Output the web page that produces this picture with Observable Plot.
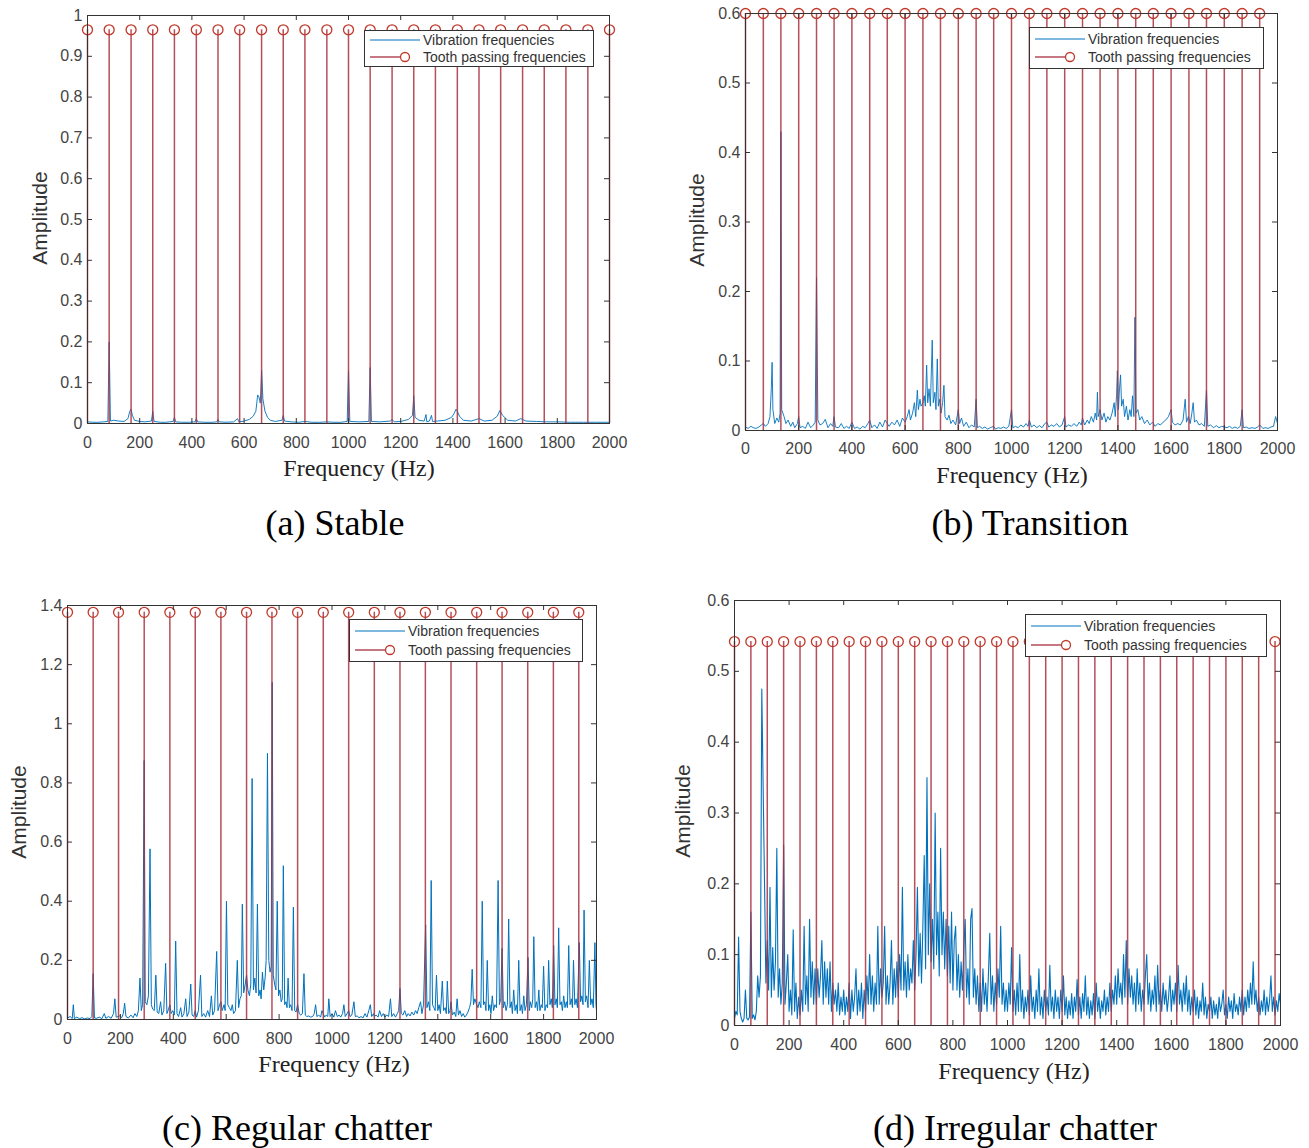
<!DOCTYPE html>
<html><head><meta charset="utf-8">
<script src="https://cdn.jsdelivr.net/npm/d3@7"></script>
<script src="https://cdn.jsdelivr.net/npm/@observablehq/plot@0.6"></script>
<style>
body{margin:0;background:#fff;}
#root{position:relative;width:1309px;height:1148px;background:#fff;overflow:hidden;font-family:"Liberation Sans",Arial,sans-serif;}
.panel{position:absolute;}
.xl{position:absolute;font-family:"Liberation Serif","Times New Roman",serif;font-size:24px;color:#222;transform:translate(-50%,-50%);white-space:nowrap;}
.yl{position:absolute;font-size:21px;color:#333;transform:translate(-50%,-50%) rotate(-90deg);white-space:nowrap;}
.cap{position:absolute;font-family:"Liberation Serif","Times New Roman",serif;font-size:36px;color:#000;transform:translate(-50%,-50%);white-space:nowrap;}
.leg{position:absolute;background:#fff;border:1px solid #333;box-sizing:border-box;font-size:14px;color:#333;display:flex;flex-direction:column;justify-content:space-evenly;}
.leg .row{display:flex;align-items:center;height:16px;}
.leg svg{flex:none;}
</style></head>
<body><div id="root"></div>
<script>
// ---------- shared ----------
const X_TICKS = [0,200,400,600,800,1000,1200,1400,1600,1800,2000];
const LEGEND_LABELS = ["Vibration frequencies","Tooth passing frequencies"];
const X_LABEL = "Frequency (Hz)";
const Y_LABEL = "Amplitude";
const CAPTIONS = ["(a) Stable","(b) Transition","(c) Regular chatter","(d) Irregular chatter"];

// ---------- (a) Stable ----------
const A_Y_TICKS = [0,0.1,0.2,0.3,0.4,0.5,0.6,0.7,0.8,0.9,1];
const A_TOOTH_AMP = 0.965;
const A_TOOTH_FREQ = [0,83,167,250,333,417,500,583,667,750,833,917,1000,1083,1167,1250,1333,1417,1500,1583,1667,1750,1833,1917,2000];
const A_SPEC = [[0,0.004],[20,0.003],[40,0.003],[60,0.004],[78,0.005],[83,0.2],[88,0.006],[100,0.008],[120,0.006],[140,0.005],[155,0.012],[162,0.03],[167,0.035],[172,0.02],[180,0.008],[200,0.005],[220,0.004],[245,0.006],[250,0.03],[255,0.005],[280,0.003],[300,0.003],[328,0.005],[333,0.015],[338,0.004],[360,0.003],[390,0.003],[412,0.004],[417,0.012],[422,0.004],[450,0.003],[480,0.003],[495,0.004],[500,0.01],[505,0.004],[530,0.003],[560,0.004],[575,0.012],[580,0.004],[600,0.006],[620,0.01],[635,0.018],[645,0.03],[652,0.07],[657,0.065],[662,0.05],[667,0.13],[672,0.06],[680,0.03],[690,0.015],[700,0.008],[720,0.005],[745,0.008],[750,0.02],[755,0.006],[780,0.004],[810,0.003],[833,0.005],[860,0.003],[890,0.003],[917,0.004],[940,0.003],[970,0.003],[995,0.005],[1000,0.13],[1005,0.005],[1040,0.004],[1078,0.005],[1083,0.137],[1088,0.005],[1120,0.004],[1160,0.006],[1167,0.01],[1175,0.004],[1200,0.005],[1230,0.01],[1245,0.02],[1250,0.068],[1255,0.015],[1270,0.008],[1290,0.006],[1297,0.022],[1300,0.004],[1310,0.006],[1318,0.02],[1322,0.005],[1340,0.006],[1370,0.008],[1395,0.015],[1405,0.025],[1412,0.035],[1417,0.03],[1425,0.018],[1440,0.008],[1470,0.006],[1500,0.012],[1520,0.006],[1550,0.008],[1570,0.018],[1580,0.032],[1590,0.02],[1610,0.008],[1640,0.006],[1660,0.012],[1680,0.006],[1720,0.005],[1760,0.004],[1800,0.004],[1850,0.003],[1900,0.003],[1950,0.003],[2000,0.003]];

// ---------- (b) Transition ----------
const B_Y_TICKS = [0,0.1,0.2,0.3,0.4,0.5,0.6];
const B_TOOTH_AMP = 0.6;
const B_TOOTH_FREQ = [0,67,133,200,267,333,400,467,533,600,667,733,800,867,933,1000,1067,1133,1200,1267,1333,1400,1467,1533,1600,1667,1733,1800,1867,1933];
const B_SPEC = [[0,0.005],[10,0.003],[20,0.006],[30,0.004],[40,0.003],[50,0.005],[60,0.008],[67,0.01],[75,0.006],[85,0.01],[92,0.02],[97,0.06],[100,0.098],[103,0.03],[110,0.01],[118,0.018],[125,0.012],[130,0.025],[133,0.43],[136,0.03],[145,0.02],[152,0.01],[160,0.015],[170,0.006],[178,0.012],[185,0.004],[195,0.01],[200,0.02],[205,0.004],[215,0.006],[225,0.003],[235,0.012],[245,0.004],[255,0.008],[262,0.012],[267,0.22],[272,0.015],[280,0.008],[290,0.01],[300,0.016],[310,0.004],[320,0.01],[328,0.006],[333,0.02],[338,0.005],[350,0.004],[360,0.01],[370,0.003],[380,0.006],[390,0.003],[400,0.012],[410,0.003],[420,0.005],[430,0.002],[440,0.006],[450,0.004],[460,0.01],[467,0.015],[475,0.004],[485,0.008],[495,0.003],[505,0.012],[515,0.005],[525,0.015],[533,0.01],[540,0.006],[550,0.012],[560,0.008],[570,0.015],[580,0.006],[590,0.018],[600,0.012],[608,0.02],[615,0.03],[620,0.015],[628,0.025],[635,0.04],[640,0.02],[646,0.058],[650,0.03],[656,0.045],[660,0.035],[667,0.04],[672,0.05],[676,0.035],[681,0.094],[685,0.04],[690,0.06],[695,0.035],[702,0.13],[706,0.04],[712,0.055],[716,0.03],[721,0.103],[725,0.035],[730,0.045],[735,0.025],[741,0.04],[746,0.065],[750,0.02],[758,0.015],[765,0.022],[772,0.01],[780,0.015],[790,0.008],[800,0.03],[805,0.01],[812,0.018],[820,0.006],[830,0.012],[840,0.004],[850,0.008],[860,0.005],[867,0.045],[872,0.004],[880,0.006],[890,0.003],[900,0.005],[910,0.002],[920,0.004],[933,0.006],[940,0.002],[950,0.004],[960,0.003],[970,0.005],[980,0.003],[990,0.006],[1000,0.03],[1005,0.004],[1015,0.006],[1025,0.004],[1035,0.008],[1045,0.005],[1055,0.01],[1062,0.006],[1067,0.015],[1075,0.005],[1085,0.008],[1095,0.004],[1105,0.007],[1115,0.004],[1125,0.01],[1133,0.012],[1140,0.005],[1150,0.008],[1160,0.006],[1170,0.01],[1180,0.005],[1190,0.008],[1200,0.02],[1205,0.005],[1215,0.008],[1225,0.006],[1235,0.01],[1245,0.006],[1255,0.012],[1262,0.008],[1267,0.018],[1275,0.008],[1285,0.015],[1292,0.01],[1300,0.02],[1308,0.012],[1315,0.025],[1320,0.015],[1323,0.055],[1326,0.02],[1333,0.03],[1340,0.015],[1348,0.025],[1355,0.012],[1362,0.02],[1370,0.015],[1378,0.025],[1386,0.04],[1390,0.02],[1395,0.05],[1398,0.086],[1402,0.03],[1406,0.06],[1410,0.08],[1414,0.035],[1420,0.045],[1425,0.02],[1432,0.035],[1438,0.015],[1445,0.03],[1450,0.02],[1455,0.05],[1460,0.02],[1464,0.163],[1468,0.025],[1475,0.03],[1482,0.015],[1490,0.02],[1500,0.01],[1510,0.015],[1520,0.008],[1530,0.012],[1540,0.006],[1550,0.01],[1560,0.008],[1570,0.012],[1580,0.015],[1590,0.02],[1600,0.03],[1605,0.012],[1615,0.008],[1625,0.01],[1635,0.008],[1645,0.015],[1653,0.045],[1658,0.012],[1665,0.02],[1672,0.01],[1678,0.025],[1683,0.04],[1688,0.012],[1695,0.015],[1705,0.008],[1715,0.01],[1725,0.006],[1733,0.058],[1738,0.006],[1748,0.008],[1760,0.004],[1770,0.007],[1780,0.004],[1790,0.006],[1800,0.005],[1810,0.004],[1820,0.006],[1830,0.003],[1840,0.005],[1850,0.003],[1860,0.006],[1867,0.03],[1872,0.004],[1882,0.005],[1892,0.003],[1905,0.004],[1915,0.003],[1925,0.005],[1933,0.008],[1945,0.003],[1955,0.004],[1965,0.003],[1975,0.005],[1985,0.006],[1993,0.02],[2000,0.01]];

// ---------- (c) Regular chatter ----------
const C_Y_TICKS = [0,0.2,0.4,0.6,0.8,1,1.2,1.4];
const C_TOOTH_AMP = 1.377;
const C_TOOTH_FREQ = [0,97,193,290,387,483,580,677,773,870,967,1063,1160,1257,1353,1450,1547,1643,1740,1837,1933];
const C_SPEC = [[0,0.005],[10,0.01],[18,0.003],[22,0.05],[26,0.003],[35,0.008],[45,0.003],[55,0.006],[65,0.002],[75,0.005],[85,0.003],[92,0.01],[97,0.155],[102,0.005],[110,0.004],[120,0.008],[130,0.003],[139,0.02],[145,0.004],[155,0.01],[165,0.004],[174,0.02],[179,0.07],[184,0.008],[192,0.01],[197,0.012],[205,0.006],[211,0.02],[216,0.055],[221,0.01],[230,0.005],[240,0.015],[248,0.006],[255,0.02],[262,0.01],[268,0.03],[274,0.14],[279,0.03],[284,0.05],[290,0.876],[294,0.06],[300,0.05],[306,0.08],[312,0.577],[317,0.05],[322,0.035],[328,0.03],[334,0.15],[339,0.025],[345,0.02],[352,0.06],[357,0.015],[364,0.03],[371,0.19],[376,0.02],[382,0.035],[387,0.05],[392,0.02],[398,0.03],[404,0.015],[409,0.265],[414,0.02],[420,0.01],[428,0.04],[433,0.008],[440,0.02],[447,0.07],[452,0.01],[459,0.025],[466,0.12],[471,0.015],[477,0.01],[483,0.03],[488,0.008],[495,0.03],[503,0.15],[508,0.01],[515,0.02],[522,0.008],[530,0.03],[537,0.01],[544,0.08],[549,0.015],[556,0.03],[564,0.23],[569,0.03],[575,0.05],[580,0.06],[585,0.03],[592,0.05],[596,0.03],[601,0.4],[606,0.05],[612,0.04],[618,0.03],[623,0.05],[628,0.02],[635,0.03],[642,0.2],[647,0.04],[652,0.07],[657,0.08],[661,0.39],[666,0.09],[672,0.12],[677,0.15],[682,0.1],[688,0.08],[693,0.12],[698,0.815],[703,0.1],[708,0.14],[713,0.09],[718,0.39],[723,0.08],[728,0.1],[732,0.07],[737,0.16],[742,0.1],[747,0.14],[751,0.2],[756,0.9],[761,0.2],[766,0.16],[770,0.18],[774,1.14],[778,0.15],[783,0.12],[788,0.1],[793,0.4],[798,0.08],[803,0.1],[808,0.06],[812,0.07],[816,0.52],[821,0.05],[826,0.06],[830,0.04],[834,0.14],[839,0.04],[844,0.05],[849,0.03],[854,0.38],[859,0.03],[864,0.025],[870,0.05],[876,0.02],[882,0.015],[888,0.02],[894,0.155],[899,0.015],[905,0.01],[912,0.012],[920,0.008],[927,0.01],[933,0.02],[938,0.05],[943,0.01],[950,0.015],[957,0.008],[962,0.03],[967,0.02],[972,0.008],[978,0.015],[984,0.01],[988,0.07],[993,0.01],[1000,0.02],[1007,0.008],[1013,0.03],[1020,0.01],[1027,0.015],[1033,0.008],[1040,0.02],[1045,0.05],[1050,0.01],[1057,0.02],[1063,0.03],[1068,0.01],[1075,0.015],[1083,0.06],[1088,0.01],[1095,0.012],[1102,0.006],[1110,0.01],[1117,0.005],[1125,0.02],[1132,0.008],[1139,0.03],[1145,0.05],[1150,0.01],[1157,0.02],[1160,0.01],[1167,0.015],[1174,0.008],[1180,0.03],[1187,0.01],[1194,0.02],[1200,0.008],[1207,0.015],[1214,0.01],[1221,0.07],[1226,0.01],[1233,0.02],[1240,0.008],[1247,0.02],[1252,0.03],[1257,0.105],[1262,0.02],[1268,0.015],[1275,0.03],[1282,0.01],[1288,0.02],[1295,0.012],[1302,0.025],[1309,0.015],[1316,0.03],[1322,0.02],[1328,0.04],[1335,0.06],[1340,0.02],[1346,0.05],[1354,0.32],[1359,0.04],[1365,0.06],[1370,0.03],[1375,0.47],[1380,0.05],[1385,0.04],[1390,0.03],[1395,0.15],[1400,0.03],[1405,0.05],[1410,0.02],[1417,0.13],[1422,0.03],[1428,0.04],[1432,0.02],[1436,0.13],[1441,0.02],[1446,0.03],[1450,0.06],[1455,0.015],[1462,0.025],[1468,0.01],[1473,0.07],[1478,0.015],[1484,0.03],[1490,0.01],[1496,0.02],[1502,0.008],[1508,0.015],[1514,0.025],[1520,0.04],[1525,0.06],[1530,0.17],[1535,0.05],[1540,0.07],[1547,0.05],[1552,0.04],[1557,0.06],[1563,0.04],[1568,0.4],[1573,0.05],[1578,0.06],[1582,0.03],[1587,0.2],[1592,0.03],[1597,0.05],[1601,0.02],[1606,0.08],[1611,0.03],[1616,0.05],[1622,0.04],[1628,0.47],[1633,0.05],[1638,0.07],[1643,0.24],[1648,0.04],[1653,0.06],[1658,0.03],[1663,0.05],[1668,0.34],[1673,0.04],[1678,0.06],[1682,0.02],[1687,0.1],[1692,0.03],[1697,0.05],[1701,0.02],[1706,0.2],[1711,0.03],[1716,0.05],[1720,0.02],[1725,0.08],[1730,0.03],[1735,0.05],[1741,0.21],[1746,0.03],[1750,0.06],[1755,0.04],[1759,0.07],[1763,0.28],[1768,0.04],[1773,0.06],[1777,0.03],[1782,0.1],[1786,0.03],[1791,0.05],[1795,0.04],[1800,0.18],[1805,0.03],[1810,0.05],[1815,0.04],[1819,0.2],[1824,0.05],[1829,0.07],[1833,0.04],[1838,0.25],[1843,0.05],[1848,0.07],[1852,0.04],[1857,0.31],[1862,0.05],[1867,0.06],[1871,0.03],[1876,0.08],[1881,0.04],[1886,0.06],[1890,0.04],[1895,0.25],[1900,0.05],[1905,0.07],[1909,0.04],[1913,0.2],[1918,0.05],[1923,0.07],[1928,0.04],[1935,0.26],[1940,0.06],[1945,0.08],[1949,0.05],[1953,0.37],[1958,0.06],[1963,0.08],[1968,0.04],[1973,0.2],[1978,0.05],[1983,0.07],[1988,0.04],[1994,0.26],[1998,0.05],[2000,0.03]];

// ---------- (d) Irregular chatter (amplitude per 5 Hz bin, 0..2000 Hz) ----------
const D_Y_TICKS = [0,0.1,0.2,0.3,0.4,0.5,0.6];
const D_TOOTH_AMP = 0.542;
const D_TOOTH_FREQ = [0,60,120,180,240,300,360,420,480,540,600,660,720,780,840,900,960,1020,1080,1140,1200,1260,1320,1380,1440,1500,1560,1620,1680,1740,1800,1860,1920,1980];
const D_BIN_HZ = 5;
const D_AMP = [
0.01,0.02,0.015,0.125,0.02,0.01,0.005,0.01,0.05,0.01,0.008,0.012,0.16,0.01,0.015,0.008,0.02,0.07,0.04,0.07,
0.475,0.335,0.2,0.06,0.12,0.05,0.195,0.04,0.11,0.05,0.09,0.25,0.04,0.08,0.03,0.06,0.255,0.03,0.06,0.1,
0.02,0.05,0.015,0.135,0.02,0.06,0.01,0.04,0.015,0.05,0.02,0.14,0.03,0.07,0.02,0.15,0.04,0.09,0.03,0.08,
0.03,0.08,0.04,0.07,0.12,0.03,0.09,0.04,0.08,0.03,0.09,0.02,0.06,0.03,0.05,0.02,0.06,0.015,0.04,0.02,
0.05,0.015,0.04,0.02,0.06,0.01,0.05,0.02,0.04,0.08,0.015,0.05,0.02,0.06,0.01,0.05,0.02,0.07,0.03,0.1,
0.03,0.07,0.02,0.06,0.03,0.14,0.03,0.08,0.04,0.06,0.14,0.03,0.07,0.03,0.06,0.12,0.03,0.08,0.04,0.09,
0.04,0.1,0.05,0.195,0.05,0.09,0.04,0.1,0.05,0.08,0.06,0.12,0.05,0.1,0.195,0.07,0.13,0.06,0.14,0.24,
0.08,0.35,0.1,0.2,0.09,0.15,0.08,0.3,0.1,0.16,0.07,0.25,0.1,0.16,0.08,0.15,0.07,0.14,0.06,0.16,
0.05,0.12,0.14,0.05,0.1,0.04,0.09,0.05,0.11,0.15,0.04,0.08,0.03,0.15,0.165,0.04,0.08,0.03,0.07,0.02,
0.06,0.02,0.08,0.03,0.06,0.02,0.07,0.13,0.03,0.07,0.02,0.06,0.03,0.08,0.04,0.14,0.03,0.06,0.02,0.05,
0.02,0.06,0.03,0.11,0.02,0.05,0.015,0.06,0.02,0.1,0.02,0.05,0.01,0.04,0.02,0.05,0.015,0.07,0.02,0.04,
0.01,0.05,0.02,0.08,0.015,0.04,0.01,0.05,0.02,0.04,0.015,0.085,0.02,0.04,0.01,0.05,0.02,0.04,0.01,0.05,
0.02,0.07,0.015,0.04,0.01,0.035,0.015,0.045,0.01,0.04,0.02,0.065,0.015,0.04,0.01,0.045,0.02,0.07,0.015,0.04,
0.01,0.035,0.015,0.045,0.01,0.06,0.02,0.04,0.01,0.035,0.02,0.05,0.015,0.04,0.02,0.06,0.02,0.05,0.03,0.07,
0.03,0.08,0.04,0.06,0.03,0.1,0.04,0.12,0.03,0.08,0.04,0.07,0.03,0.06,0.02,0.08,0.03,0.06,0.02,0.05,
0.03,0.07,0.1,0.03,0.06,0.02,0.05,0.03,0.07,0.02,0.085,0.03,0.05,0.02,0.06,0.03,0.05,0.02,0.04,0.07,
0.02,0.05,0.03,0.06,0.02,0.085,0.03,0.05,0.02,0.06,0.03,0.07,0.02,0.05,0.015,0.04,0.02,0.05,0.015,0.04,
0.01,0.035,0.02,0.06,0.015,0.04,0.01,0.03,0.02,0.04,0.01,0.035,0.015,0.03,0.01,0.04,0.02,0.03,0.05,0.015,
0.03,0.01,0.04,0.02,0.035,0.01,0.045,0.02,0.03,0.015,0.04,0.02,0.05,0.015,0.04,0.02,0.05,0.025,0.06,0.03,
0.09,0.03,0.05,0.02,0.04,0.015,0.035,0.02,0.05,0.015,0.04,0.02,0.035,0.07,0.02,0.04,0.015,0.035,0.02,0.045,0.03
];
const D_SPEC = D_AMP.map((a, i) => [i * D_BIN_HZ, a]);

// ---------- styling / layout ----------
const BLUE = "#0072BD", STEM = "#A8303E", RING = "#C0392B", AX = "#333";
const PANELS = [
  {spec:A_SPEC, teeth:A_TOOTH_FREQ, amp:A_TOOTH_AMP, yticks:A_Y_TICKS, ymax:1,   left:0,   top:0,   width:629, height:460, ml:87, mr:20, mt:15, mb:37, pad:13, lw:0.9,
   xl:[359,468], yl:[40,218], cap:[335,523], leg:[364,30,230,37]},
  {spec:B_SPEC, teeth:B_TOOTH_FREQ, amp:B_TOOTH_AMP, yticks:B_Y_TICKS, ymax:0.6, left:660, top:0,   width:637, height:468, ml:85, mr:20, mt:13, mb:38, pad:12, lw:0.9,
   xl:[1012,475], yl:[697,220], cap:[1030,523], leg:[1029,27,235,42]},
  {spec:C_SPEC, teeth:C_TOOTH_FREQ, amp:C_TOOTH_AMP, yticks:C_Y_TICKS, ymax:1.4, left:0,   top:590, width:616, height:467, ml:67, mr:20, mt:15, mb:38, pad:13, lw:1,
   xl:[334,1064], yl:[19,812], cap:[297,1128], leg:[349,619,234,43]},
  {spec:D_SPEC, teeth:D_TOOTH_FREQ, amp:D_TOOTH_AMP, yticks:D_Y_TICKS, ymax:0.6, left:660, top:585, width:640, height:478, ml:74, mr:20, mt:15, mb:38, pad:13, lw:1.1,
   xl:[1014,1071], yl:[683,811], cap:[1015,1128], leg:[1025,614,242,43]}
];

const root = document.getElementById("root");
function div(cls, text, x, y){ const d=document.createElement("div"); d.className=cls; d.textContent=text; d.style.left=x+"px"; d.style.top=y+"px"; root.appendChild(d); return d; }

PANELS.forEach((o, i) => {
  const fh = o.height - o.mt - o.mb, fw = o.width - o.ml - o.mr;
  const tly = o.ymax * 5 / fh, tlx = 2000 * 5 / fw;
  const svg = Plot.plot({
    width:o.width, height:o.height, marginLeft:o.ml, marginRight:o.mr, marginTop:o.mt, marginBottom:o.mb,
    x:{domain:[0,2000]}, y:{domain:[0,o.ymax]},
    style:{fontFamily:"'Liberation Sans', Arial, sans-serif", fontSize:"16px", color:"#444", background:"transparent", overflow:"visible"},
    marks:[
      Plot.line(o.spec, {x:d=>d[0], y:d=>d[1], stroke:BLUE, strokeWidth:o.lw}),
      Plot.ruleX(o.teeth, {x:d=>d, y1:0, y2:o.amp, stroke:STEM, strokeWidth:1.5, strokeOpacity:0.85}),
      Plot.dot(o.teeth, {x:d=>d, y:o.amp, r:5, stroke:RING, strokeWidth:1.3, fill:"none"}),
      Plot.ruleX(X_TICKS, {x:d=>d, y1:0, y2:tly, stroke:AX}),
      Plot.ruleX(X_TICKS, {x:d=>d, y1:o.ymax - tly, y2:o.ymax, stroke:AX}),
      Plot.ruleY(o.yticks, {y:d=>d, x1:0, x2:tlx, stroke:AX}),
      Plot.ruleY(o.yticks, {y:d=>d, x1:2000 - tlx, x2:2000, stroke:AX}),
      Plot.frame({stroke:AX}),
      Plot.axisX({ticks:X_TICKS, tickSize:0, tickPadding:o.pad, label:null, tickFormat:d=>String(d)}),
      Plot.axisY({ticks:o.yticks, tickSize:0, tickPadding:5, label:null, tickFormat:d=>String(+d.toFixed(1))})
    ]
  });
  const w = document.createElement("div");
  w.className = "panel"; w.style.left = o.left+"px"; w.style.top = o.top+"px"; w.style.width = o.width+"px"; w.style.height = o.height+"px";
  w.appendChild(svg); root.appendChild(w);

  div("xl", X_LABEL, o.xl[0], o.xl[1]);
  div("yl", Y_LABEL, o.yl[0], o.yl[1]);
  div("cap", CAPTIONS[i], o.cap[0], o.cap[1]);

  const lg = document.createElement("div");
  lg.className = "leg";
  lg.style.left = o.leg[0]+"px"; lg.style.top = o.leg[1]+"px"; lg.style.width = o.leg[2]+"px"; lg.style.height = o.leg[3]+"px";
  const samples = [
    `<svg width="58" height="14"><line x1="5" y1="7" x2="55" y2="7" stroke="${BLUE}" stroke-width="1"/></svg>`,
    `<svg width="58" height="14"><line x1="5" y1="7" x2="36" y2="7" stroke="${STEM}" stroke-width="1.3"/><circle cx="40" cy="7" r="4.5" fill="none" stroke="${RING}" stroke-width="1.3"/></svg>`
  ];
  LEGEND_LABELS.forEach((t, k) => {
    const r = document.createElement("div"); r.className = "row";
    r.innerHTML = samples[k];
    const s = document.createElement("span"); s.textContent = t; r.appendChild(s);
    lg.appendChild(r);
  });
  root.appendChild(lg);
});
</script>
</body></html>
